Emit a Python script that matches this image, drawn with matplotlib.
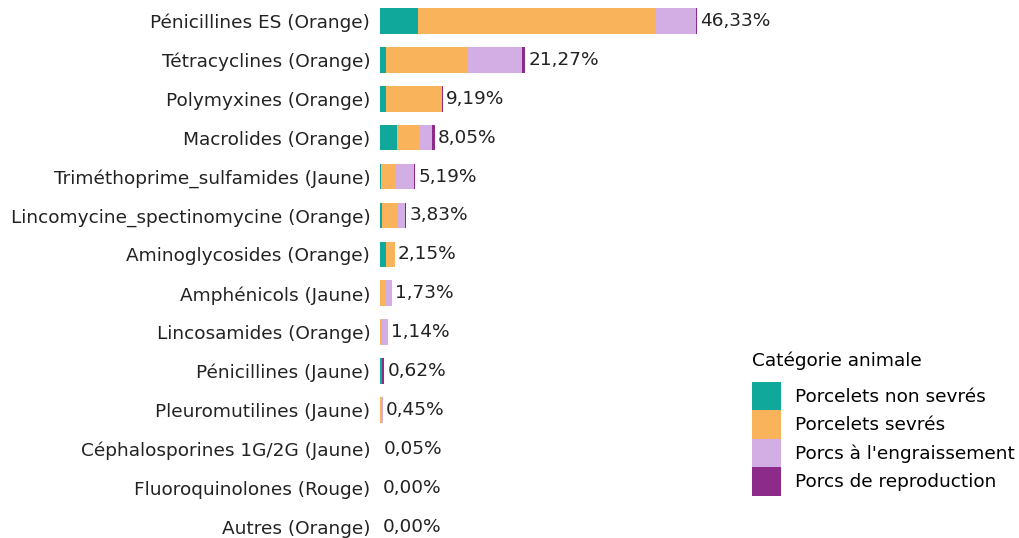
import numpy as np
import matplotlib
matplotlib.use("Agg")
import matplotlib.pyplot as plt

categories = [
    "Pénicillines ES (Orange)",
    "Tétracyclines (Orange)",
    "Polymyxines (Orange)",
    "Macrolides (Orange)",
    "Triméthoprime_sulfamides (Jaune)",
    "Lincomycine_spectinomycine (Orange)",
    "Aminoglycosides (Orange)",
    "Amphénicols (Jaune)",
    "Lincosamides (Orange)",
    "Pénicillines (Jaune)",
    "Pleuromutilines (Jaune)",
    "Céphalosporines 1G/2G (Jaune)",
    "Fluoroquinolones (Rouge)",
    "Autres (Orange)",
]
totals = [46.33, 21.27, 9.19, 8.05, 5.19, 3.83, 2.15, 1.73, 1.14, 0.62, 0.45, 0.05, 0.00, 0.00]

# share of each animal category (percent of total use)
non_sevres = [5.50, 0.85, 0.88, 2.53, 0.15, 0.30, 0.90, 0.00, 0.00, 0.30, 0.00, 0.00, 0.0, 0.0]
sevres = [34.80, 11.80, 8.14, 3.17, 2.15, 2.20, 1.25, 0.74, 0.36, 0.00, 0.30, 0.05, 0.0, 0.0]
engraissement = [5.83, 8.18, 0.00, 1.95, 2.68, 1.12, 0.00, 0.99, 0.78, 0.02, 0.15, 0.00, 0.0, 0.0]
reproduction = [0.20, 0.44, 0.17, 0.40, 0.21, 0.21, 0.00, 0.00, 0.00, 0.30, 0.00, 0.00, 0.0, 0.0]

series = [
    ("Porcelets non sevrés", non_sevres, "#0fa89a"),
    ("Porcelets sevrés", sevres, "#f8b35b"),
    ("Porcs à l'engraissement", engraissement, "#d3aee4"),
    ("Porcs de reproduction", reproduction, "#8d2b8a"),
]

fs = 13.3
fig = plt.figure(figsize=(10.2, 5.38), dpi=100)
row_px = 38.9
top = 1 - 1.5 / 538
height = len(categories) * row_px / 538
ax = fig.add_axes([380 / 1020, top - height, 1 - 380 / 1020, height])

y = np.arange(len(categories))
left = np.zeros(len(categories))
for name, vals, col in series:
    vals = np.array(vals)
    ax.barh(y, vals, left=left, height=0.66, color=col, label=name)
    left += vals

for yi, tot in zip(y, totals):
    ax.text(tot + 0.45, yi, f"{tot:.2f}%".replace(".", ","), va="center", ha="left",
            fontsize=fs, color="#222222")

ax.set_ylim(len(categories) - 0.5, -0.5)
ax.set_xlim(0, 640 / 6.84)
ax.set_yticks(y)
ax.set_yticklabels(categories, fontsize=fs, color="#222222")
ax.tick_params(axis="y", length=0, pad=7)
ax.set_xticks([])
for s in ax.spines.values():
    s.set_visible(False)

leg = ax.legend(loc="upper left", bbox_to_anchor=(0.570, 0.37), frameon=False,
                title="Catégorie animale", fontsize=fs, title_fontsize=fs,
                handlelength=1.55, handleheight=2.0, labelspacing=0,
                handletextpad=0.75, borderaxespad=0)
leg._legend_box.align = "left"
leg._legend_box.sep = 8

fig.savefig("out.png", dpi=100)
